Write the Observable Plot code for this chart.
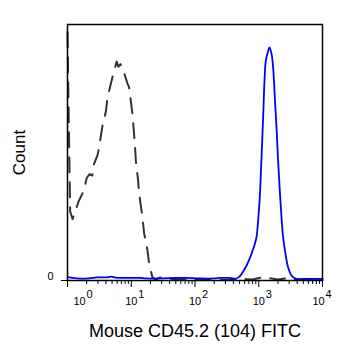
<!DOCTYPE html>
<html><head><meta charset="utf-8">
<script src="https://cdn.jsdelivr.net/npm/d3@7"></script>
<script src="https://cdn.jsdelivr.net/npm/@observablehq/plot@0.6"></script>
<style>html,body{margin:0;padding:0;background:#fff}#chart svg{display:block}</style>
</head><body><div id="chart"></div>
<script>
// Isotype control (dashed) histogram
const controlX = [1.0, 1.04, 1.1, 1.2, 1.5, 1.8, 2.0, 2.2, 2.45, 2.6, 2.96, 3.13, 3.54, 4.0, 4.24, 5.08, 5.9, 6.3, 6.8, 7.3, 8.7, 9.25, 10.46, 11.37, 11.8, 12.8, 13.3, 15.0, 15.9, 18.0, 19.05, 21.5, 24, 28, 33, 40, 55, 90, 150, 300, 550, 800, 1100, 1400, 2000, 2800, 4500, 10000];
const controlY = [97, 67, 27, 24, 31, 35, 40, 41.5, 41, 45.5, 49, 52, 60.5, 66, 71.5, 79.5, 85.5, 83.5, 84.5, 83, 77, 75.5, 65, 53.5, 47, 39, 34, 24.5, 18.5, 11.7, 6.6, 1.2, 0.4, 1.1, 1.3, 0.7, 0.5, 0.3, 0.2, 0.2, 0.6, 0.4, 1.2, 1.0, 0.4, 0.9, 0.3, 0.2];
// CD45.2 FITC stained (blue) histogram
const stainedX = [1.0, 1.4, 2.16, 2.88, 4.0, 4.9, 5.7, 8, 14, 17, 29, 50, 72, 123, 200, 254, 339, 393, 432, 487, 583, 699, 836, 922, 977, 1038, 1089, 1145, 1188, 1231, 1291, 1388, 1475, 1585, 1680, 1786, 1897, 2010, 2138, 2274, 2410, 2628, 2885, 3264, 3770, 5000, 10000];
const stainedY = [1.3, 0.8, 0.8, 1.2, 1.2, 1.5, 1.1, 1.0, 1.0, 0.8, 0.8, 1.0, 1.0, 0.8, 0.8, 1.0, 1.0, 0.8, 0.7, 1.3, 3.9, 7.8, 13, 16.9, 23.4, 32.5, 44.3, 57.3, 67.7, 78.1, 85.9, 89.2, 91.1, 88.6, 83.3, 71.6, 59.9, 46.9, 35.2, 24.7, 16.9, 10.4, 5.2, 2.0, 0.7, 0.6, 0.6];

const majorTicks = [1, 10, 100, 1000, 10000];
const exponents = ["0", "1", "2", "3", "4"];
const minorTicks = [];
for (const d of [1, 10, 100, 1000]) for (let k = 2; k <= 9; k++) minorTicks.push(d * k);
const yTicks = [0];
const yTickLabels = ["0"];
const xLabel = "Mouse CD45.2 (104) FITC";
const yLabel = "Count";

const control = controlX.map((x, i) => ({x, y: controlY[i]}));
const stained = stainedX.map((x, i) => ({x, y: stainedY[i]}));
const tickData = majorTicks.map((v, i) => ({v, e: exponents[i]}));
const first = tickData.slice(0, 1), middle = tickData.slice(1, 4), last = tickData.slice(4);

const font = "'Liberation Sans', Arial, Helvetica, sans-serif";
const baseTxt = {frameAnchor: "bottom", lineAnchor: "bottom", fontSize: 11, fill: "black"};
function tickLabels(data, dx) {
  return [
    Plot.text(data, {...baseTxt, x: "v", text: () => "10", dx, dy: 24}),
    Plot.text(data, {...baseTxt, x: "v", text: "e", textAnchor: "start", dx: dx + 7, dy: 17})
  ];
}

const chart = Plot.plot({
  width: 357, height: 362,
  marginLeft: 67, marginRight: 35, marginTop: 24, marginBottom: 82,
  style: {fontFamily: font, background: "white", color: "black", overflow: "visible"},
  x: {type: "log", domain: [1, 10000]},
  y: {domain: [0, 100]},
  marks: [
    Plot.line(control, {x: "x", y: "y", stroke: "#333333", strokeWidth: 2, strokeDasharray: "15,10", curve: "linear"}),
    Plot.line(stained, {x: "x", y: "y", stroke: "#0000ff", strokeWidth: 1.8, curve: "catmull-rom"}),
    Plot.frame({stroke: "black", strokeWidth: 1.5}),
    Plot.axisX(majorTicks, {tickSize: 7, tickFormat: () => "", label: xLabel, labelAnchor: "center", labelOffset: 56, labelArrow: "none", fontSize: 18}),
    Plot.axisX(minorTicks, {tickSize: 4, tickFormat: () => "", label: null}),
    ...tickLabels(first, 12),
    ...tickLabels(middle, 0),
    ...tickLabels(last, -4),
    Plot.axisY(yTicks, {tickSize: 6, tickFormat: () => "", label: yLabel, labelAnchor: "center", labelOffset: 55, labelArrow: "none", fontSize: 17}),
    Plot.text(yTicks, {y: d => d, text: (d, i) => yTickLabels[i], frameAnchor: "left", textAnchor: "end", dx: -14, dy: -4.5, fontSize: 11, fill: "black"})
  ]
});
document.getElementById("chart").appendChild(chart);
</script>
</body></html>
